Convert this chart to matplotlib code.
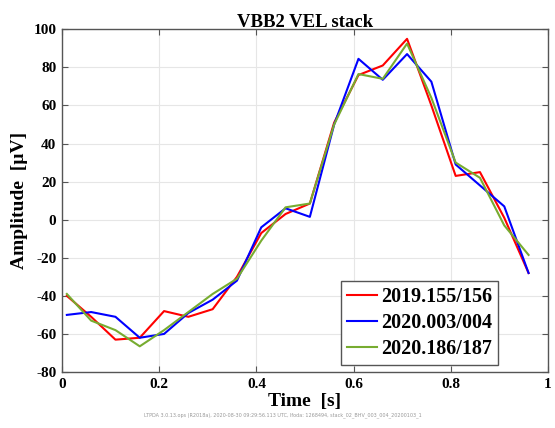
import numpy as np
import matplotlib
matplotlib.use('Agg')
import matplotlib.pyplot as plt

# sample times [s]
time = [0.01, 0.06, 0.11, 0.16, 0.21, 0.26, 0.31, 0.36, 0.41, 0.46,
        0.51, 0.56, 0.61, 0.66, 0.71, 0.76, 0.81, 0.86, 0.91, 0.96]

# stacked amplitudes [uV]
amp_2019_155 = [-40, -51, -63, -62, -48, -51, -47, -30, -7, 3,
                8.5, 51, 76, 81, 95, 60, 23, 25, 1, -28]
amp_2020_003 = [-50, -48.5, -51, -62, -60, -49, -42, -32, -4, 6,
                1.5, 50, 84.5, 73.5, 87, 72.5, 29, 18, 7, -28]
amp_2020_186 = [-39, -53, -58, -66.5, -58, -48.5, -39, -31, -11, 6.5,
                8.5, 50, 76.5, 74, 92.5, 64, 30, 22, -3, -18.5]

labels = ['2019.155/156', '2020.003/004', '2020.186/187']
colors = ['#ff0000', '#0000ff', '#77ac30']

plt.rcParams['font.family'] = ['Liberation Serif', 'DejaVu Serif']
plt.rcParams['font.weight'] = 'bold'
plt.rcParams['axes.unicode_minus'] = False

fig = plt.figure(figsize=(5.55, 4.28), dpi=100)
ax = fig.add_axes([0.1117, 0.1308, 0.8757, 0.8007])

for amp, lab, col in zip([amp_2019_155, amp_2020_003, amp_2020_186], labels, colors):
    ax.plot(time, amp, color=col, lw=1.5, label=lab)

ax.set_xlim(0, 1)
ax.set_ylim(-80, 100)
ax.set_xticks([0, 0.2, 0.4, 0.6, 0.8, 1])
ax.set_xticklabels(['0', '0.2', '0.4', '0.6', '0.8', '1'])
ax.set_yticks(np.arange(-80, 101, 20))
ax.grid(True, color='#e6e6e6', lw=0.8)
ax.set_axisbelow(True)
ax.tick_params(direction='in', top=True, right=True, length=4,
               color='#555555', labelsize=11, pad=4)
for sp in ax.spines.values():
    sp.set_color('#555555')
    sp.set_linewidth(1.0)

ax.set_title('VBB2 VEL stack', fontsize=13.5, fontweight='bold', pad=2)
ax.set_xlabel('Time  [s]', fontsize=14, fontweight='bold', labelpad=2)
ax.set_ylabel('Amplitude  [\u00b5V]', fontsize=14, fontweight='bold', labelpad=4)

leg = ax.legend(loc='lower right', bbox_to_anchor=(0.897, 0.02), fontsize=14.5,
                fancybox=False, framealpha=1, edgecolor='#555555',
                handlelength=1.5, handletextpad=0.2, borderpad=0.3,
                labelspacing=0.3, borderaxespad=0)
leg.get_frame().set_linewidth(1.0)

fig.text(0.51, 0.03,
         'LTPDA 3.0.13.ops (R2018a), 2020-08-30 09:29:56.113 UTC, lfoda: 1268494, '
         'stack_02_BHV_003_004_20200103_1',
         fontsize=3.5, color='#999999', ha='center', va='center',
         family='DejaVu Sans', fontweight='normal')

fig.savefig('out.png', dpi=100)
